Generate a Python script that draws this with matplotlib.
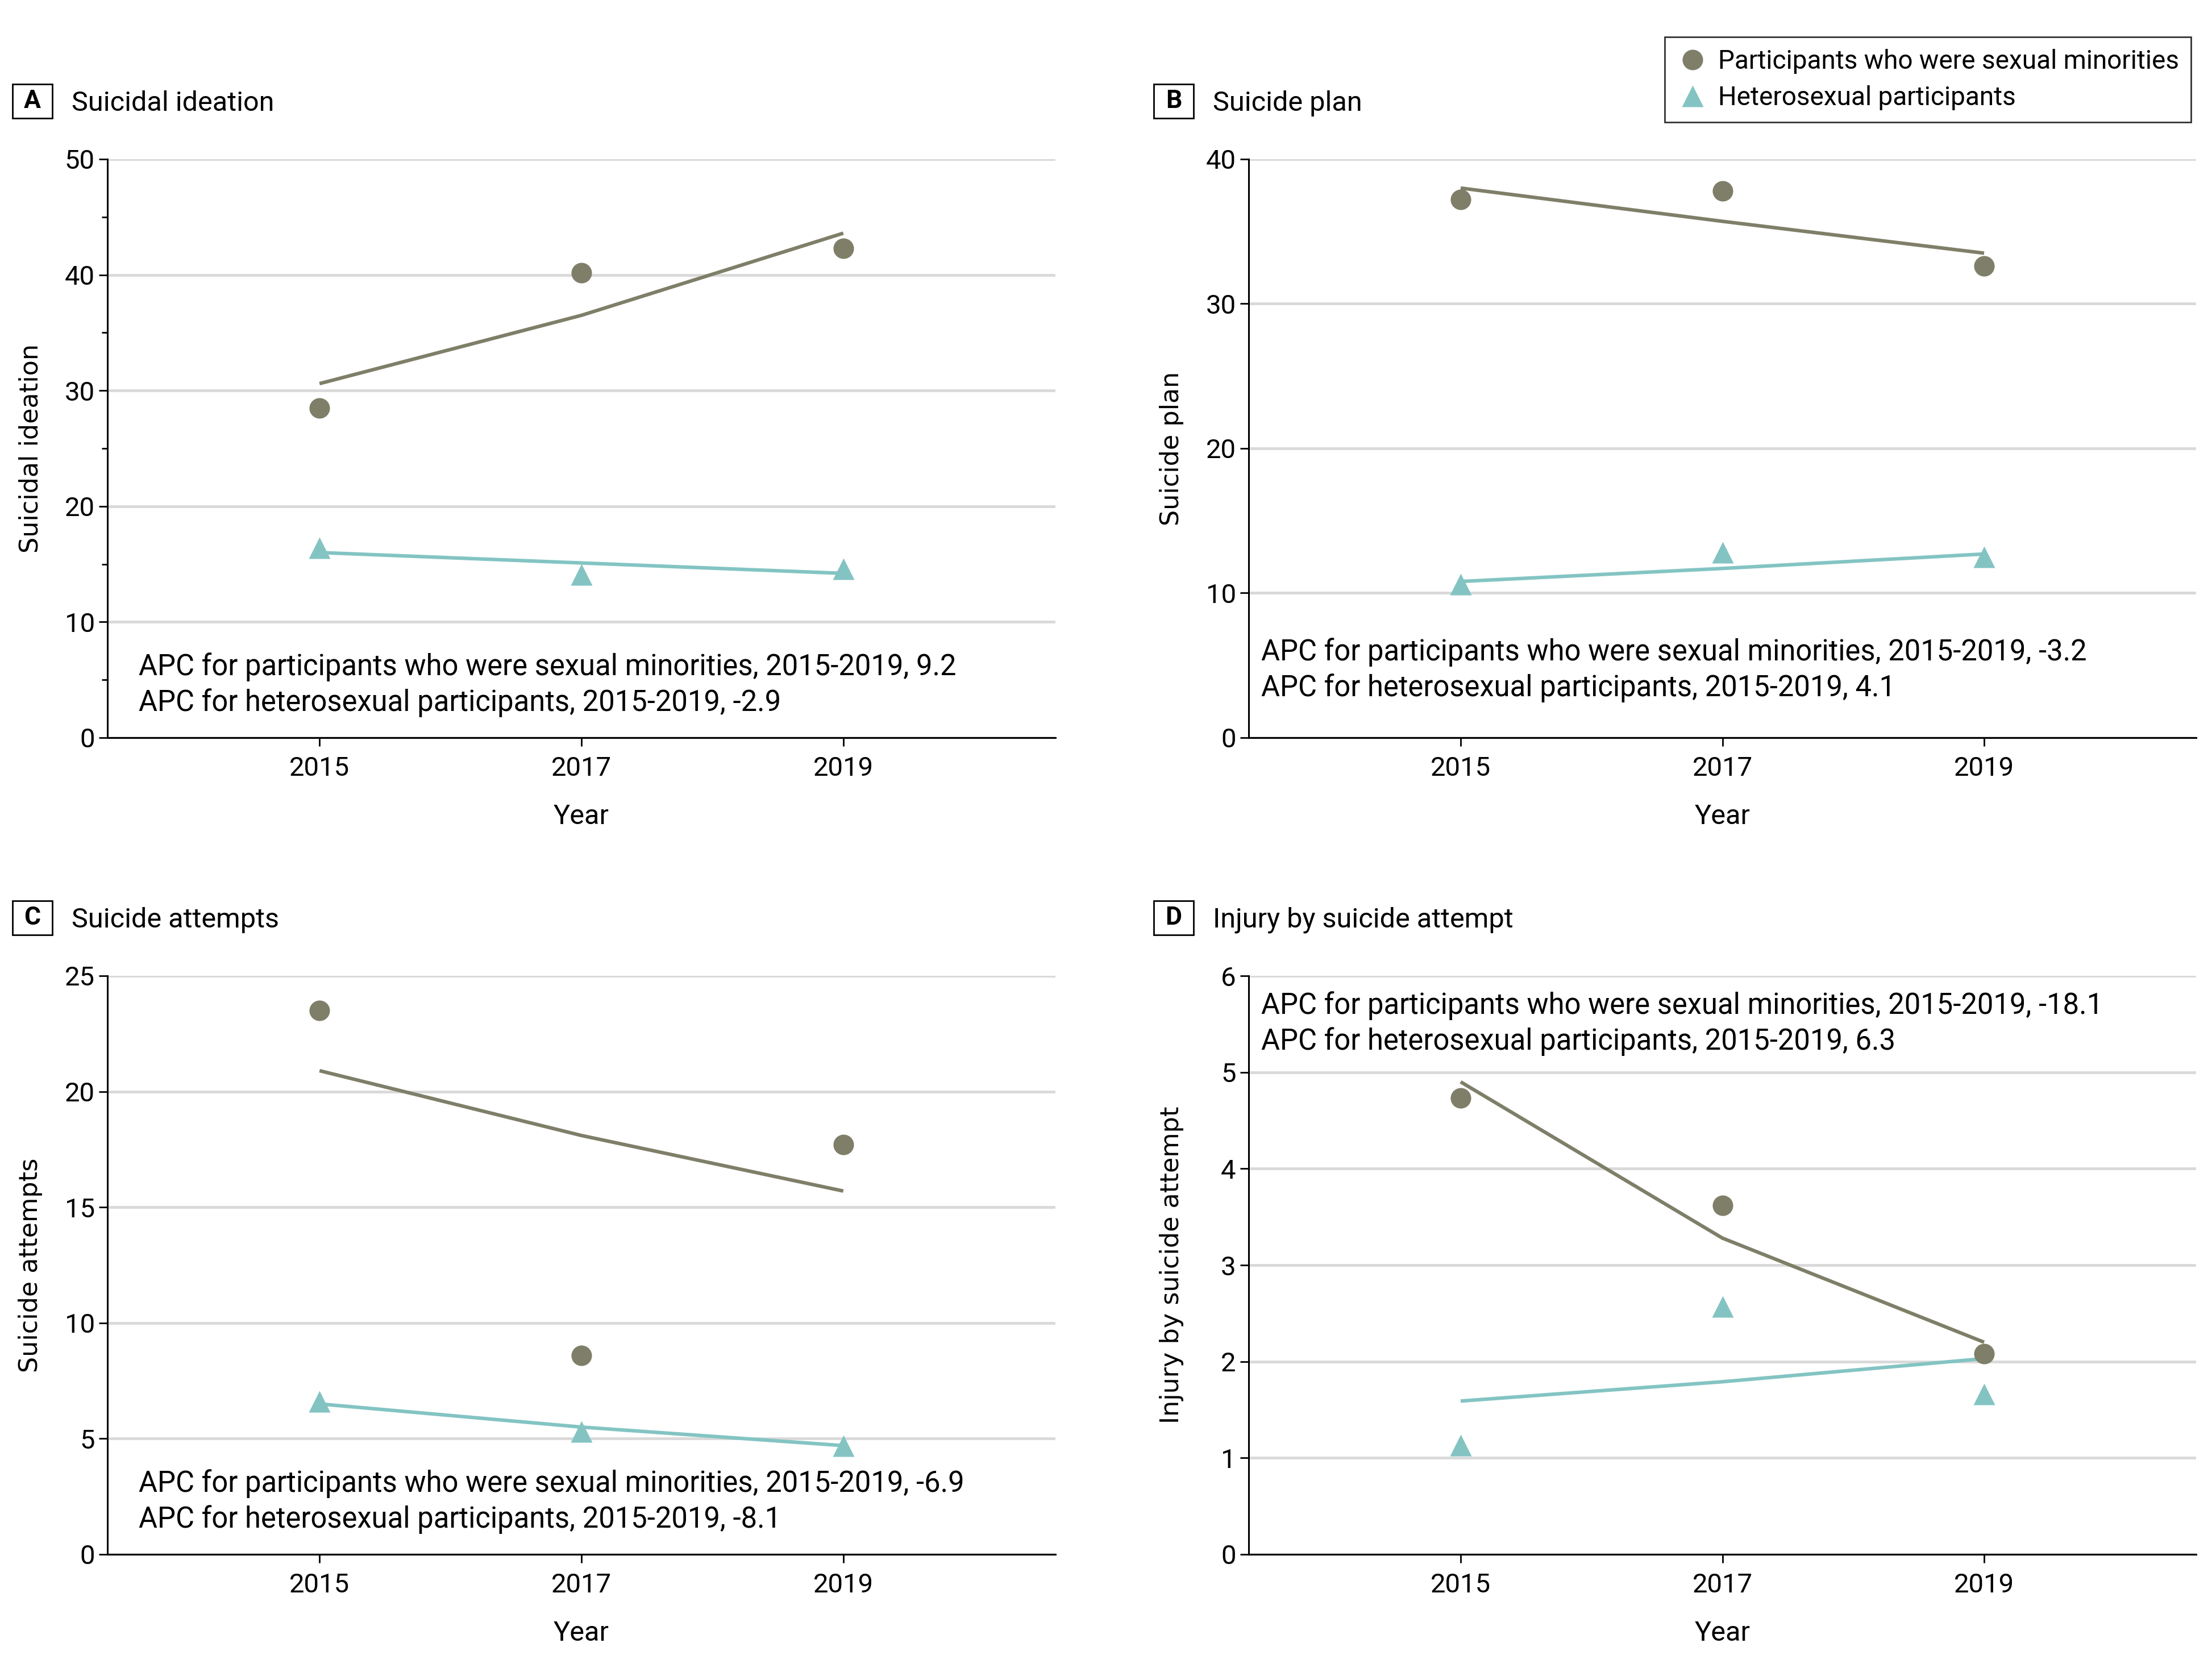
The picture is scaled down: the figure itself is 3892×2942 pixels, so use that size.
import matplotlib
matplotlib.use("Agg")
import matplotlib.pyplot as plt
from matplotlib.patches import Rectangle
from matplotlib.lines import Line2D
from matplotlib import font_manager

names = {f.name for f in font_manager.fontManager.ttflist}
COND = ['Liberation Sans Narrow', 'Roboto', 'DejaVu Sans'] if 'Liberation Sans Narrow' in names else ['Roboto', 'DejaVu Sans']
plt.rcParams['font.family'] = COND

years = [2015, 2017, 2019]

titles = ["Suicidal ideation", "Suicide plan", "Suicide attempts", "Injury by suicide attempt"]
letters = ["A", "B", "C", "D"]
ylabels = ["Suicidal ideation", "Suicide plan", "Suicide attempts", "Injury by suicide attempt"]

# observed values
sm_obs = [[28.5, 40.2, 42.3], [37.2, 37.8, 32.6], [23.5, 8.6, 17.7], [4.73, 3.62, 2.08]]
het_obs = [[16.4, 14.1, 14.6], [10.6, 12.8, 12.5], [6.6, 5.3, 4.7], [1.13, 2.57, 1.66]]
# fitted trend values
sm_fit = [[30.6, 36.5, 43.6], [38.0, 35.7, 33.5], [20.9, 18.1, 15.7], [4.9, 3.28, 2.2]]
het_fit = [[16.0, 15.1, 14.2], [10.8, 11.7, 12.7], [6.5, 5.5, 4.7], [1.59, 1.79, 2.03]]

ymax = [50, 40, 25, 6]
ystep = [10, 10, 5, 1]

apc_sm = ["9.2", "-3.2", "-6.9", "-18.1"]
apc_het = ["-2.9", "4.1", "-8.1", "6.3"]

SM_COLOR = "#7f7f69"
HET_COLOR = "#83c4c3"
GRID = "#d9d9d9"

W, H = 3892, 2942
fig = plt.figure(figsize=(W / 100, H / 100), dpi=100)

# axes rects in pixels: left, top, right, bottom
rects = [(189, 280, 1857, 1298), (2197, 280, 3864, 1298),
         (189, 1717, 1857, 2735), (2197, 1717, 3864, 2735)]
# text anchors (axes fraction) for APC annotations
apc_pos = [(0.033, 0.122), (0.013, 0.148), (0.033, 0.122), (0.013, 0.948)]
# panel label box positions (px): left, top
label_box = [(22, 148), (2030, 148), (22, 1585), (2030, 1585)]

TICK_FS = 34
for i in range(4):
    l, t, r, b = rects[i]
    ax = fig.add_axes([l / W, 1 - b / H, (r - l) / W, (b - t) / H])
    ax.set_xlim(2013.38, 2020.62)
    ax.set_ylim(0, ymax[i])
    yt = list(range(0, ymax[i] + 1, ystep[i]))
    ax.set_yticks(yt)
    ax.set_yticklabels([str(v) for v in yt])
    ax.set_xticks(years)
    ax.set_xticklabels([str(y) for y in years])
    if i == 0:
        ax.set_yticks(list(range(5, 50, 10)), minor=True)
        ax.tick_params(axis='y', which='minor', length=7, width=2)
    for s in ['top', 'right']:
        ax.spines[s].set_visible(False)
    for s in ['left', 'bottom']:
        ax.spines[s].set_linewidth(2.2)
    ax.tick_params(axis='both', which='major', length=11, width=2, labelsize=TICK_FS, direction='out')
    ax.tick_params(axis='x', pad=12)
    ax.tick_params(axis='y', pad=5)
    ax.yaxis.grid(True, color=GRID, linewidth=3.5)
    ax.set_axisbelow(True)

    ax.plot(years, sm_fit[i], color=SM_COLOR, lw=4.5, solid_capstyle='butt', zorder=3)
    ax.plot(years, het_fit[i], color=HET_COLOR, lw=4.5, solid_capstyle='butt', zorder=3)
    ax.plot(years, sm_obs[i], 'o', color=SM_COLOR, ms=26, mec='none', zorder=4, clip_on=False)
    ax.plot(years, het_obs[i], '^', color=HET_COLOR, ms=27, mec='none', zorder=4, clip_on=False)

    ax.set_xlabel("Year", fontsize=35)
    ax.xaxis.set_label_coords(0.5, -0.137)
    ax.xaxis.label.set_va('center')
    ax.set_ylabel(ylabels[i], fontsize=32, family=['DejaVu Sans'])
    ax.yaxis.set_label_coords(-0.081, 0.5)
    ax.yaxis.label.set_va('center')

    ax.text(apc_pos[i][0], apc_pos[i][1],
            f"APC for participants who were sexual minorities, 2015-2019, {apc_sm[i]}",
            transform=ax.transAxes, fontsize=36.5, va='center', ha='left')
    ax.text(apc_pos[i][0], apc_pos[i][1] - 0.062,
            f"APC for heterosexual participants, 2015-2019, {apc_het[i]}",
            transform=ax.transAxes, fontsize=36.5, va='center', ha='left')

    bl, bt = label_box[i]
    bw, bh = 70, 60
    fig.patches.append(Rectangle((bl / W, 1 - (bt + bh) / H), bw / W, bh / H,
                                 transform=fig.transFigure, fill=False, edgecolor='black', lw=2))
    fig.text((bl + bw / 2) / W, 1 - (bt + bh / 2) / H, letters[i], fontsize=32,
             fontweight='bold', ha='center', va='center')
    fig.text((bl + 104) / W, 1 - (bt + bh / 2 + 4) / H, titles[i], fontsize=35,
             ha='left', va='center')

handles = [Line2D([], [], marker='o', ls='none', color=SM_COLOR, ms=26, mec='none'),
           Line2D([], [], marker='^', ls='none', color=HET_COLOR, ms=27, mec='none')]
leg = fig.legend(handles, ["Participants who were sexual minorities", "Heterosexual participants"],
                 loc='upper right', bbox_to_anchor=(3855 / W, 1 - 65 / H), borderaxespad=0,
                 fontsize=33, frameon=True, fancybox=False, edgecolor='black', handletextpad=0.4,
                 borderpad=0.45, labelspacing=0.45, handlelength=1.2)
leg.get_frame().set_linewidth(2)

fig.savefig("out.png", dpi=100, facecolor='white')
